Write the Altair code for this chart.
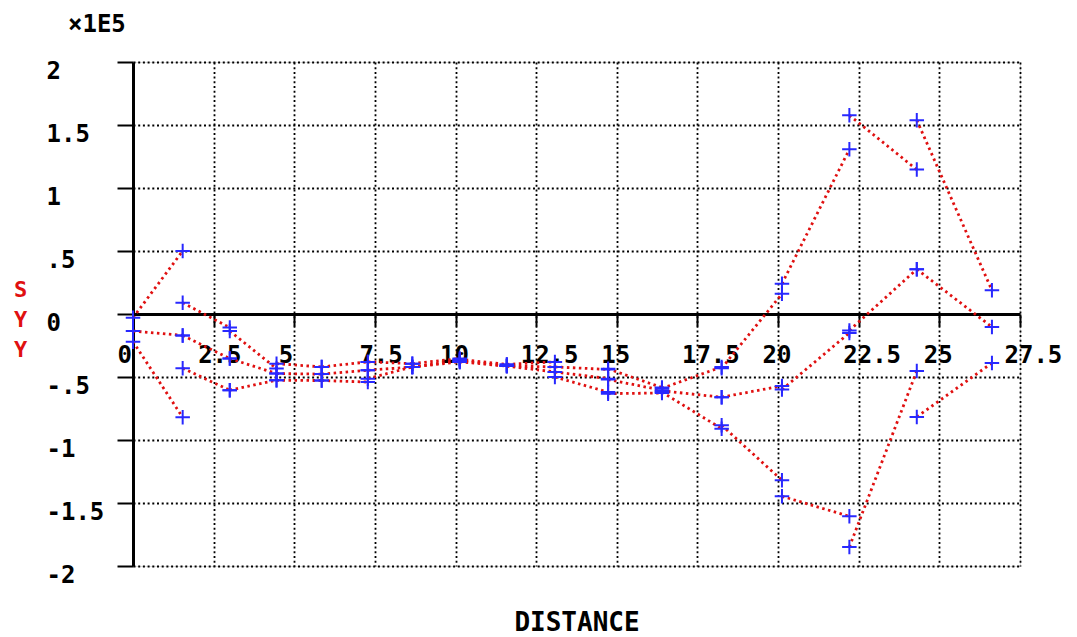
import altair as alt
import pandas as pd

# Node positions (DISTANCE) of the element ends
NODES = [0, 1.54, 3.0, 4.45, 5.85, 7.28, 8.66, 10.13, 11.59, 13.08,
         14.73, 16.4, 18.25, 20.12, 22.21, 24.3, 26.63]

# SYY values (x 1E5) at the start / end of each element, for three curves
TOP_START = [-0.03, 0.09, -0.135, -0.394, -0.42, -0.38, -0.394, -0.36,
             -0.40, -0.42, -0.435, -0.59, -0.43, 0.24, 1.577, 1.538]
TOP_END = [0.50, -0.108, -0.433, -0.42, -0.38, -0.394, -0.354, -0.40,
           -0.38, -0.44, -0.584, -0.42, 0.16, 1.307, 1.146, 0.188]
MID_START = [-0.135, -0.17, -0.354, -0.473, -0.477, -0.447, -0.42, -0.37,
             -0.413, -0.46, -0.52, -0.61, -0.66, -0.60, -0.13, 0.355]
MID_END = [-0.17, -0.354, -0.473, -0.477, -0.447, -0.42, -0.37, -0.413,
           -0.42, -0.513, -0.605, -0.66, -0.571, -0.15, 0.355, -0.103]
BOT_START = [-0.22, -0.43, -0.605, -0.526, -0.528, -0.513, -0.42, -0.38,
             -0.413, -0.50, -0.632, -0.62, -0.883, -1.447, -1.849, -0.817]
BOT_END = [-0.82, -0.605, -0.526, -0.528, -0.54, -0.42, -0.38, -0.413,
           -0.46, -0.62, -0.627, -0.91, -1.32, -1.606, -0.452, -0.389]

X_TICKS = [0, 2.5, 5, 7.5, 10, 12.5, 15, 17.5, 20, 22.5, 25, 27.5]
X_LABELS = ["0", "2.5", "5", "7.5", "10", "12.5", "15", "17.5", "20",
            "22.5", "25", "27.5"]
Y_TICKS = [-2, -1.5, -1, -0.5, 0, 0.5, 1, 1.5, 2]
Y_LABELS = ["-2", "-1.5", "-1", "-.5", "0", ".5", "1", "1.5", "2"]

FONT = "DejaVu Sans Mono"
RED = "#e01010"
BLUE = "#2828ff"

rows = []
for name, starts, ends in [("top", TOP_START, TOP_END),
                           ("mid", MID_START, MID_END),
                           ("bot", BOT_START, BOT_END)]:
    for i in range(len(starts)):
        seg = f"{name}{i}"
        rows.append({"seg": seg, "x": NODES[i], "v": starts[i], "k": 0})
        rows.append({"seg": seg, "x": NODES[i + 1], "v": ends[i], "k": 1})
df = pd.DataFrame(rows)


def label_expr(ticks, labels):
    expr = "datum.label"
    for t, l in reversed(list(zip(ticks, labels))):
        expr = f"datum.value == {t} ? '{l}' : ({expr})"
    return expr


W, H = 887, 504

xscale = alt.Scale(domain=[0, 27.5], nice=False, zero=False)
yscale = alt.Scale(domain=[-2, 2], nice=False, zero=False)

y_enc = alt.Y(
    "v:Q", scale=yscale,
    axis=alt.Axis(
        values=Y_TICKS, labelExpr=label_expr(Y_TICKS, Y_LABELS),
        title=["S", "Y", "Y"], titleAngle=0, titleX=-113, titleY=227,
        titleAlign="center", titleBaseline="middle", titleLineHeight=30,
        titleColor=RED, titleFont=FONT, titleFontSize=22, titleFontWeight="bold",
        labelFont=FONT, labelFontSize=24, labelFontWeight="bold",
        labelColor="black", labelAlign="left", labelBaseline="top",
        labelPadding=71, labelOffset=-3, labelFlush=False, labelOverlap=False,
        tickSize=16, tickWidth=2, tickColor="black",
        domainColor="black", domainWidth=3,
        grid=True, gridColor="black", gridDash=[2, 2.7], gridWidth=1.8,
        gridOpacity=1,
    ),
)

x_grid = alt.X(
    "x:Q", scale=xscale,
    axis=alt.Axis(
        values=X_TICKS[1:], orient="bottom", grid=True, gridColor="black",
        gridDash=[2, 2.7], gridWidth=1.8, gridOpacity=1,
        labels=False, ticks=False, domain=False, title=None,
    ),
)

x_lab = alt.X(
    "x:Q", scale=xscale,
    axis=alt.Axis(
        values=X_TICKS, labelExpr=label_expr(X_TICKS, X_LABELS),
        orient="bottom", offset=-H / 2, grid=False,
        domainColor="black", domainWidth=3,
        tickSize=12, tickWidth=2, tickColor="black",
        labelFont=FONT, labelFontSize=24, labelFontWeight="bold",
        labelColor="black", labelAlign="left", labelOffset=-16,
        labelBaseline="top", labelPadding=17, labelFlush=False,
        labelOverlap=False,
        title="DISTANCE", titleX=W / 2, titleY=316, titleAlign="center",
        titleBaseline="alphabetic", titleFont=FONT, titleFontSize=26,
        titleFontWeight="bold", titleColor="black",
    ),
)

lines = alt.Chart(df).mark_line(
    color=RED, strokeWidth=2.8, strokeDash=[2.5, 3.5]
).encode(x=x_grid, y=y_enc, detail="seg:N", order="k:Q")

points = alt.Chart(df).mark_point(
    shape="M-1,0H1M0,-1V1", size=210, color=BLUE, filled=False,
    strokeWidth=2, opacity=1
).encode(x=x_lab, y=y_enc)

chart = alt.layer(lines, points).resolve_axis(x="independent").properties(
    width=W, height=H,
    title=alt.TitleParams(
        "×1E5", anchor="start", frame="group", dx=-65, dy=-22, offset=0,
        font=FONT, fontSize=24, fontWeight="bold", color="black",
    ),
    autosize=alt.AutoSizeParams(type="none"),
    padding={"left": 125, "top": 54, "right": 45, "bottom": 72},
).configure_view(stroke=None).configure(background="white")

chart.save("out.html", embed_options={"renderer": "svg", "actions": False})
